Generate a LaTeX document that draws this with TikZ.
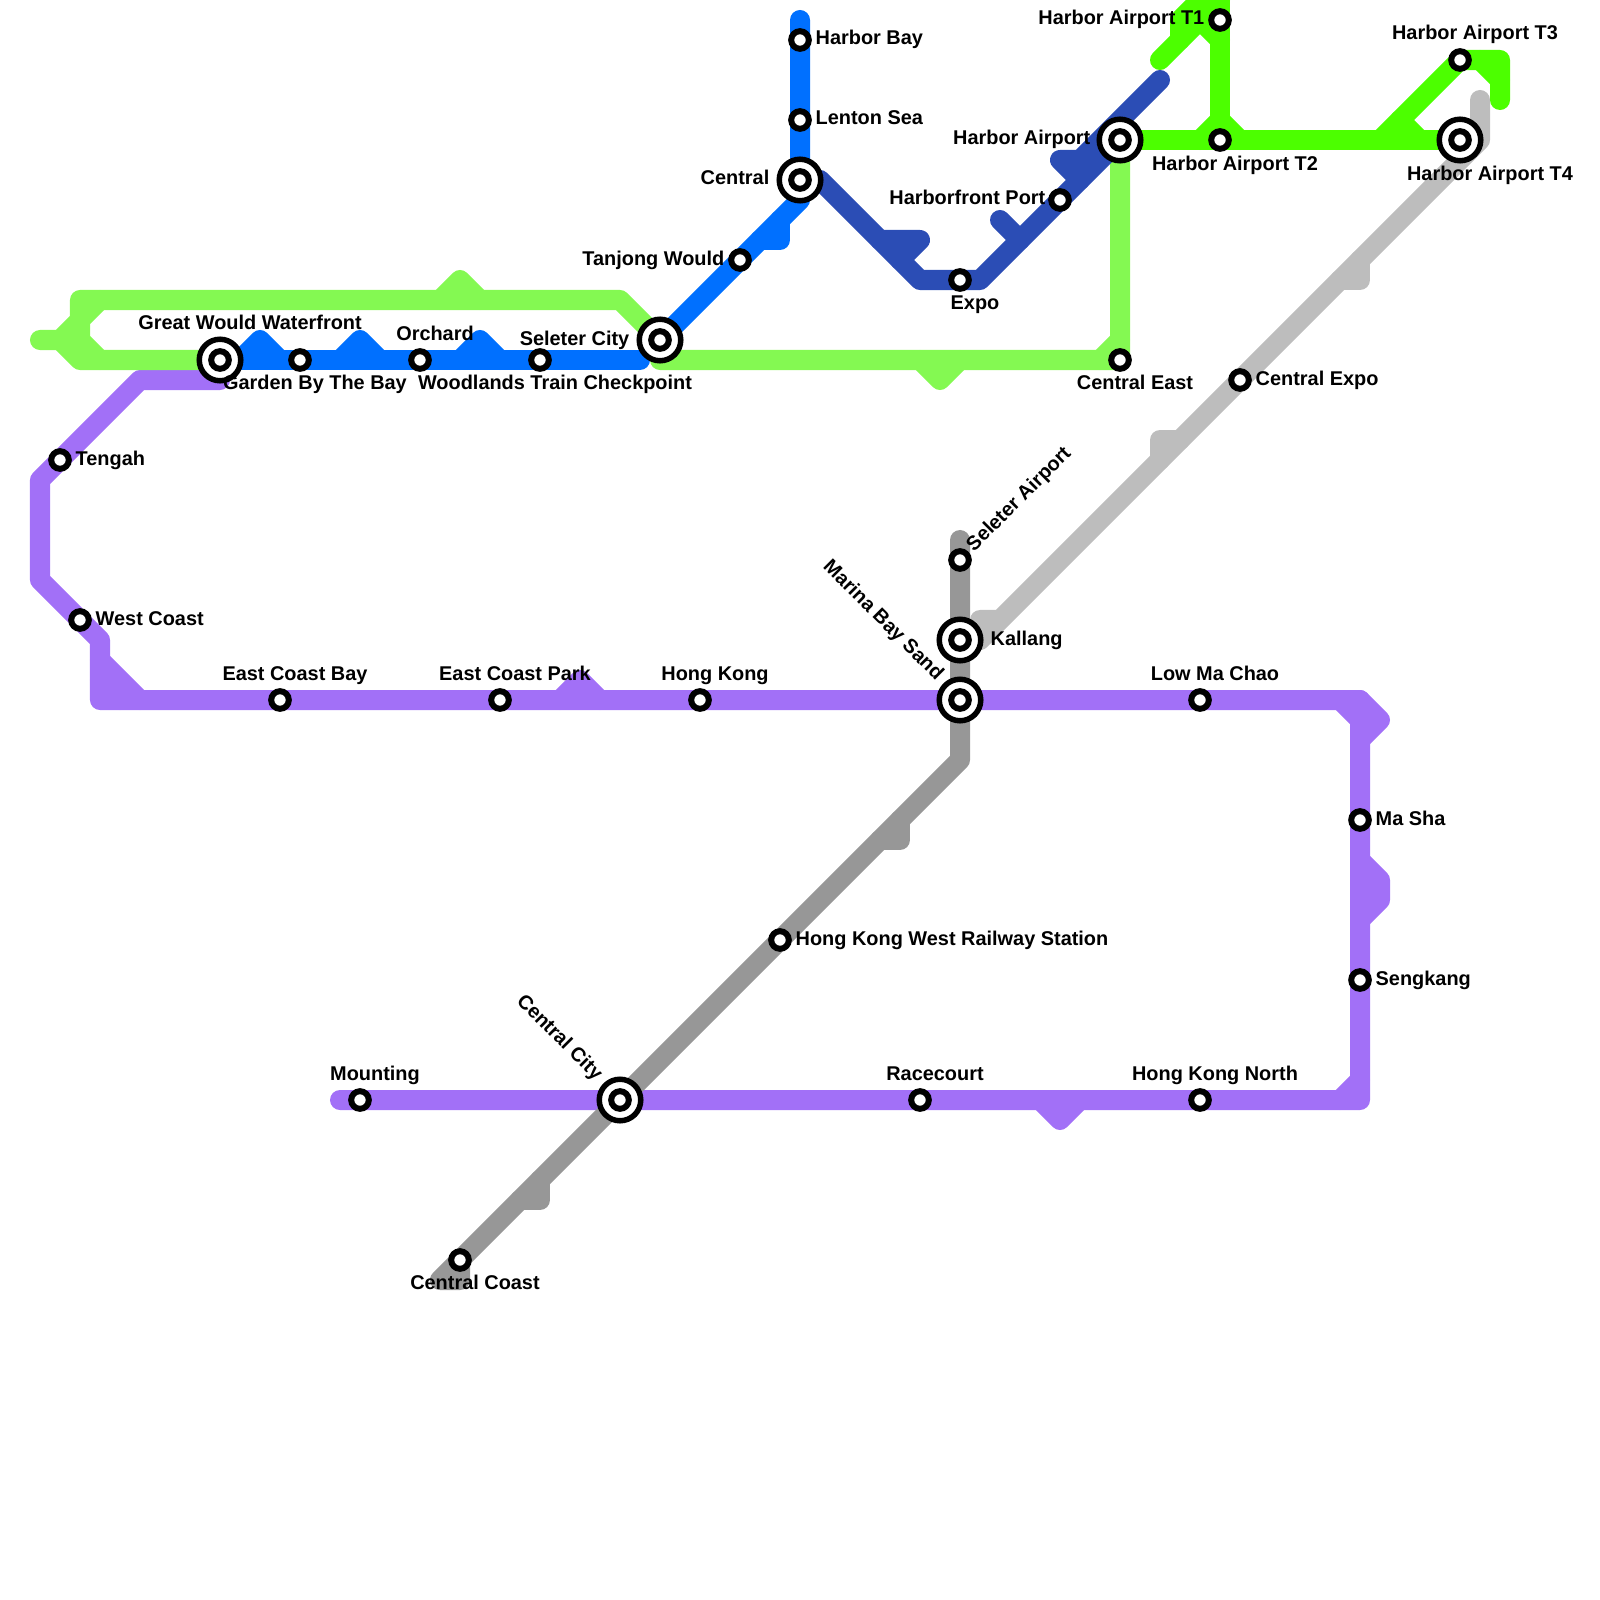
\documentclass[tikz,border=0pt]{standalone}
\usepackage{fontspec}
\setmainfont{Liberation Sans}
\usepackage{tikz}
\usetikzlibrary{positioning}
\definecolor{LeafGreen}{RGB}{132,249,82}
\definecolor{LimeGreen}{RGB}{76,255,0}
\definecolor{MetroBlue}{RGB}{0,112,255}
\definecolor{DeepBlue}{RGB}{43,77,181}
\definecolor{MetroPurple}{RGB}{162,112,247}
\definecolor{PaleGray}{RGB}{189,189,189}
\definecolor{MidGray}{RGB}{151,151,151}
\tikzset{
  route/.style={line width=.2cm,line cap=round,line join=round},
  stop/.style={circle,draw=black,fill=white,line width=.06cm,minimum size=.176cm,inner sep=0pt},
  hub/.style={circle,draw=black,fill=white,line width=.055cm,minimum size=.415cm,inner sep=0pt},
  lbl/.style={font=\fontsize{5.66pt}{6pt}\bfseries,inner sep=0pt,text=black}
}
\begin{document}
\begin{tikzpicture}[x=.01cm,y=-.01cm]
  \useasboundingbox (0,0) rectangle (1600,1600);
  % purple line
  \draw[route,MetroPurple] (220,380) -- (140,380) -- (40,480) -- (40,580) -- (100,640) -- (100,700) -- (1360,700) -- (1360,1100) -- (340,1100);
  \draw[route,MetroPurple] (100,660) -- (140,700);
  \draw[route,MetroPurple] (100,680) -- (120,700);
  \draw[route,MetroPurple] (560,700) -- (580,680) -- (600,700);
  \draw[route,MetroPurple] (1340,700) -- (1360,720);
  \draw[route,MetroPurple] (1360,700) -- (1380,720) -- (1360,740);
  \draw[route,MetroPurple] (1360,860) -- (1380,880) -- (1380,900) -- (1360,920);
  \draw[route,MetroPurple] (1340,1100) -- (1360,1080);
  \draw[route,MetroPurple] (1040,1100) -- (1060,1120) -- (1080,1100);
  % gray lines
  \draw[route,MidGray] (960,540) -- (960,760) -- (440,1280) -- (460,1280) -- (460,1260);
  \draw[route,MidGray] (900,820) -- (900,840) -- (880,840);
  \draw[route,MidGray] (540,1180) -- (540,1200) -- (520,1200);
  \draw[route,PaleGray] (1480,100) -- (1480,140) -- (980,640) -- (980,620) -- (1000,620);
  \draw[route,PaleGray] (1360,260) -- (1360,280) -- (1340,280);
  \draw[route,PaleGray] (1180,440) -- (1160,440) -- (1160,460);
  % light green line
  \draw[route,LeafGreen] (40,340) -- (60,340) -- (80,320) -- (80,300) -- (620,300) -- (660,340) -- (660,360) -- (1120,360) -- (1120,140);
  \draw[route,LeafGreen] (60,340) -- (80,360) -- (220,360);
  \draw[route,LeafGreen] (100,300) -- (80,320) -- (80,340) -- (100,360);
  \draw[route,LeafGreen] (440,300) -- (460,280) -- (480,300);
  \draw[route,LeafGreen] (920,360) -- (940,380) -- (960,360);
  \draw[route,LeafGreen] (1100,360) -- (1120,340);
  % blue line
  \draw[route,MetroBlue] (220,360) -- (640,360);
  \draw[route,MetroBlue] (240,360) -- (260,340) -- (280,360);
  \draw[route,MetroBlue] (340,360) -- (360,340) -- (380,360);
  \draw[route,MetroBlue] (460,360) -- (480,340) -- (500,360);
  \draw[route,MetroBlue] (800,20) -- (800,200) -- (660,340);
  \draw[route,MetroBlue] (780,220) -- (780,240) -- (760,240);
  % dark blue line
  \draw[route,DeepBlue] (800,180) -- (820,180) -- (920,280) -- (980,280) -- (1120,140);
  \draw[route,DeepBlue] (880,240) -- (920,240) -- (900,260);
  \draw[route,DeepBlue] (1000,220) -- (1020,240);
  \draw[route,DeepBlue] (1160,80) -- (1080,160) -- (1060,160) -- (1080,180);
  % airport line
  \draw[route,LimeGreen] (1120,140) -- (1460,140);
  \draw[route,LimeGreen] (1220,-10) -- (1220,140);
  \draw[route,LimeGreen] (1200,140) -- (1220,120) -- (1240,140);
  \draw[route,LimeGreen] (1160,60) -- (1200,20) -- (1220,40);
  \draw[route,LimeGreen] (1180,40) -- (1180,20) -- (1200,0) -- (1200,20) -- (1220,0);
  \draw[route,LimeGreen] (1200,0) -- (1220,-10);
  \draw[route,LimeGreen] (1380,140) -- (1460,60) -- (1500,60) -- (1500,100);
  \draw[route,LimeGreen] (1400,120) -- (1420,140);
  \draw[route,LimeGreen] (1480,60) -- (1500,80);

  % interchanges
  \foreach \name/\x/\y in {central/800/180,seleter/660/340,waterfront/220/360,airport/1120/140,
      terminalfour/1460/140,kallang/960/640,marina/960/700,centralcity/620/1100}
    \node[hub] (\name hub) at (\x,\y) {};
  % stops
  \foreach \name/\x/\y in {central/800/180,seleter/660/340,waterfront/220/360,airport/1120/140,
      terminalfour/1460/140,kallang/960/640,marina/960/700,centralcity/620/1100,
      bay/800/40,lenton/800/120,tanjong/740/260,garden/300/360,orchard/420/360,woodlands/540/360,
      expo/960/280,port/1060/200,terminalone/1220/20,terminaltwo/1220/140,terminalthree/1460/60,
      centraleast/1120/360,centralexpo/1240/380,seleterair/960/560,tengah/60/460,westcoast/80/620,
      eastbay/280/700,eastpark/500/700,hongkong/700/700,lowma/1200/700,masha/1360/820,
      sengkang/1360/980,hknorth/1200/1100,racecourt/920/1100,mounting/360/1100,
      westrail/780/940,centralcoast/460/1260}
    \node[stop] (\name) at (\x,\y) {};

  % labels to the right
  \foreach \x/\y/\txt in {815/45/Harbor Bay,815/125/Lenton Sea,1255/385/Central Expo,990/645/Kallang,
      75/465/Tengah,95/625/West Coast,1375/825/Ma Sha,1375/985/Sengkang,
      795/945/Hong Kong West Railway Station}
    \node[lbl,anchor=base west] at (\x,\y) {\txt};
  % labels to the left
  \foreach \x/\y/\txt in {770/185/Central,725/265/Tanjong Would,630/345/Seleter City,
      1046/205/Harborfront Port,1091/145/Harbor Airport,1205/25/Harbor Airport T1}
    \node[lbl,anchor=base east] at (\x,\y) {\txt};
  % labels above and below
  \foreach \x/\y/\txt in {250/329/Great Would Waterfront,315/389/Garden By The Bay,435/340/Orchard,
      555/389/Woodlands Train Checkpoint,975/309/Expo,1235/170/Harbor Airport T2,1475/40/Harbor Airport T3,
      1490/180/Harbor Airport T4,1135/389/Central East,295/680/East Coast Bay,515/680/East Coast Park,
      715/680/Hong Kong,1215/680/Low Ma Chao,375/1080/Mounting,935/1080/Racecourt,
      1215/1080/Hong Kong North,475/1289/Central Coast}
    \node[lbl,anchor=base] at (\x,\y) {\txt};
  % slanted labels
  \node[lbl,anchor=west,rotate=45] at (970,549) {Seleter Airport};
  \node[lbl,anchor=east,rotate=-45] at (940,678) {Marina Bay Sand};
  \node[lbl,anchor=east,rotate=-45] at (599,1078) {Central City};
\end{tikzpicture}
\end{document}
